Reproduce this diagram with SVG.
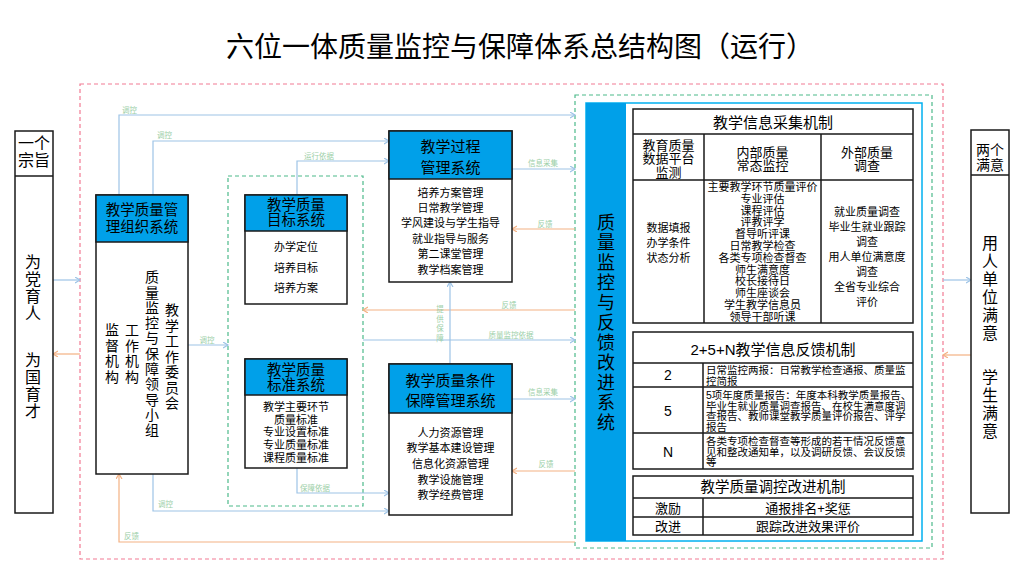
<svg xmlns="http://www.w3.org/2000/svg" width="1024" height="585" viewBox="0 0 1024 585">
<defs>
<style>
text{font-family:"Liberation Sans","Noto Sans CJK SC",sans-serif;fill:#000}
.c{text-anchor:middle}
.box{fill:#fff;stroke:#1a1a1a;stroke-width:1.5}
.hd{fill:#00a0e9;stroke:#1a1a1a;stroke-width:1.5}
.h{font-size:14.5px}
.b{font-size:11px}
.lb{font-size:7.5px;fill:#9ccfa8}
.bl{fill:none;stroke:#9dc3e6;stroke-width:1.2;marker-end:url(#ab)}
.or{fill:none;stroke:#f4b183;stroke-width:1.2;marker-end:url(#ao)}
.tb{fill:none;stroke:#1a1a1a;stroke-width:1.5}
.r{font-size:10.5px}
</style>
<marker id="ab" markerUnits="userSpaceOnUse" markerWidth="8" markerHeight="8" refX="5" refY="3" orient="auto"><path d="M0,0 L5,3 L0,6" fill="none" stroke="#9dc3e6" stroke-width="1.2"/></marker>
<marker id="ao" markerUnits="userSpaceOnUse" markerWidth="8" markerHeight="8" refX="5" refY="3" orient="auto"><path d="M0,0 L5,3 L0,6" fill="none" stroke="#f4b183" stroke-width="1.2"/></marker>
</defs>
<rect width="1024" height="585" fill="#fff"/>
<text x="226" y="57" style="font-size:28px">六位一体质量监控与保障体系总结构图（运行）</text>

<g id="frames">
<rect x="80" y="84" width="863" height="475" fill="none" stroke="#f27b93" stroke-width="1.2" stroke-dasharray="4,3"/>
<rect x="228" y="176" width="135" height="330" fill="none" stroke="#4cb98a" stroke-width="1.2" stroke-dasharray="4,3"/>
<rect x="575" y="95" width="357" height="453" fill="none" stroke="#4cb98a" stroke-width="1.2" stroke-dasharray="4,3"/>
</g>

<g id="connectors">
<path class="bl" d="M53,280 H80"/>
<path class="or" d="M80,354 H53"/>
<path class="bl" d="M943,280 H971"/>
<path class="or" d="M971,355 H943"/>
<path class="bl" d="M119,195 V115 H575"/>
<text class="lb" x="122" y="113">调控</text>
<path class="bl" d="M153,195 V141 H389"/>
<text class="lb" x="157" y="138">调控</text>
<path class="bl" d="M297,195 V161 H389"/>
<text class="lb" x="304" y="158.5">运行依据</text>
<path class="bl" d="M512,169 H575"/>
<text class="lb c" x="543" y="165.5">信息采集</text>
<path class="or" d="M575,229 H512"/>
<text class="lb c" x="545" y="226.5">反馈</text>
<path class="or" d="M575,310 H363"/>
<text class="lb c" x="509" y="307.5">反馈</text>
<path class="bl" d="M363,340 H575"/>
<text class="lb c" x="511" y="337.5">质量监控依据</text>
<path class="bl" d="M450,364 V282"/>
<text class="lb c" x="440" y="312"><tspan x="440">提</tspan><tspan x="440" dy="9.5">供</tspan><tspan x="440" dy="9.5">保</tspan><tspan x="440" dy="9.5">障</tspan></text>
<path class="bl" d="M188,345 H228"/>
<text class="lb c" x="207" y="342.5">调控</text>
<path class="bl" d="M512,399 H575"/>
<text class="lb c" x="543" y="394.5">信息采集</text>
<path class="or" d="M575,471 H512"/>
<text class="lb c" x="546" y="466.5">反馈</text>
<path class="bl" d="M297,468 V493 H389"/>
<text class="lb" x="300" y="490.5">保障依据</text>
<path class="bl" d="M153,474 V511 H389"/>
<text class="lb" x="158" y="506.5">调控</text>
<path class="or" d="M575,542 H119 V474"/>
<text class="lb" x="124" y="538.5">反馈</text>
</g>

<g id="purpose">
<rect class="box" x="15" y="131" width="38" height="382"/>
<line x1="15" y1="176" x2="53" y2="176" stroke="#1a1a1a" stroke-width="1.5"/>
<text class="c" style="font-size:16px" x="34" y="149">一个</text>
<text class="c" style="font-size:16px" x="34" y="166">宗旨</text>
<text class="c" style="font-size:16px" x="33" y="268"><tspan x="33">为</tspan><tspan x="33" dy="17">党</tspan><tspan x="33" dy="17">育</tspan><tspan x="33" dy="17">人</tspan></text>
<text class="c" style="font-size:16px" x="33" y="366"><tspan x="33">为</tspan><tspan x="33" dy="17">国</tspan><tspan x="33" dy="17">育</tspan><tspan x="33" dy="17">才</tspan></text>
</g>

<g id="satisfaction">
<rect class="box" x="971" y="130" width="38" height="383"/>
<line x1="971" y1="175" x2="1009" y2="175" stroke="#1a1a1a" stroke-width="1.5"/>
<text class="c" style="font-size:14px" x="990" y="154.5">两个</text>
<text class="c" style="font-size:14px" x="990" y="169.5">满意</text>
<text class="c" style="font-size:16px" x="990" y="249"><tspan x="990">用</tspan><tspan x="990" dy="18">人</tspan><tspan x="990" dy="18">单</tspan><tspan x="990" dy="18">位</tspan><tspan x="990" dy="18">满</tspan><tspan x="990" dy="18">意</tspan></text>
<text class="c" style="font-size:16px" x="990" y="383"><tspan x="990">学</tspan><tspan x="990" dy="18">生</tspan><tspan x="990" dy="18">满</tspan><tspan x="990" dy="18">意</tspan></text>
</g>

<g id="management">
<rect class="box" x="96" y="195" width="92" height="279"/>
<rect class="hd" x="96" y="195" width="92" height="47"/>
<text class="c h" x="142" y="215.4">教学质量管</text>
<text class="c h" x="142" y="232.4">理组织系统</text>
<text class="c" style="font-size:14px" x="112" y="335.2"><tspan x="112">监</tspan><tspan x="112" dy="15.5">督</tspan><tspan x="112" dy="15.5">机</tspan><tspan x="112" dy="15.5">构</tspan></text>
<text class="c" style="font-size:14px" x="132" y="335.2"><tspan x="132">工</tspan><tspan x="132" dy="15.5">作</tspan><tspan x="132" dy="15.5">机</tspan><tspan x="132" dy="15.5">构</tspan></text>
<text class="c" style="font-size:14px" x="152" y="282.2"><tspan x="152">质</tspan><tspan x="152" dy="15.3">量</tspan><tspan x="152" dy="15.3">监</tspan><tspan x="152" dy="15.3">控</tspan><tspan x="152" dy="15.3">与</tspan><tspan x="152" dy="15.3">保</tspan><tspan x="152" dy="15.3">障</tspan><tspan x="152" dy="15.3">领</tspan><tspan x="152" dy="15.3">导</tspan><tspan x="152" dy="15.3">小</tspan><tspan x="152" dy="15.3">组</tspan></text>
<text class="c" style="font-size:14px" x="172" y="315.2"><tspan x="172">教</tspan><tspan x="172" dy="15.5">学</tspan><tspan x="172" dy="15.5">工</tspan><tspan x="172" dy="15.5">作</tspan><tspan x="172" dy="15.5">委</tspan><tspan x="172" dy="15.5">员</tspan><tspan x="172" dy="15.5">会</tspan></text>
</g>

<g id="goal">
<rect class="box" x="245" y="195" width="102" height="109"/>
<rect class="hd" x="245" y="195" width="102" height="36"/>
<text class="c h" x="296" y="210.4">教学质量</text>
<text class="c h" x="296" y="225.4">目标系统</text>
<text class="c b" x="296" y="251">办学定位</text>
<text class="c b" x="296" y="272">培养目标</text>
<text class="c b" x="296" y="292">培养方案</text>
</g>

<g id="standard">
<rect class="box" x="245" y="359" width="102" height="109"/>
<rect class="hd" x="245" y="359" width="102" height="36"/>
<text class="c h" x="296" y="375.4">教学质量</text>
<text class="c h" x="296" y="390.4">标准系统</text>
<text class="c b" x="296" y="411">教学主要环节</text>
<text class="c b" x="296" y="423.5">质量标准</text>
<text class="c b" x="296" y="436">专业设置标准</text>
<text class="c b" x="296" y="449">专业质量标准</text>
<text class="c b" x="296" y="462">课程质量标准</text>
</g>

<g id="process">
<rect class="box" x="389" y="131" width="123" height="151"/>
<rect class="hd" x="389" y="131" width="123" height="48"/>
<text class="c" style="font-size:15px" x="450.5" y="151.5">教学过程</text>
<text class="c" style="font-size:15px" x="450.5" y="172.5">管理系统</text>
<text class="c b" x="450.5" y="197">培养方案管理</text>
<text class="c b" x="450.5" y="212">日常教学管理</text>
<text class="c b" x="450.5" y="227">学风建设与学生指导</text>
<text class="c b" x="450.5" y="243">就业指导与服务</text>
<text class="c b" x="450.5" y="258">第二课堂管理</text>
<text class="c b" x="450.5" y="274">教学档案管理</text>
</g>

<g id="condition">
<rect class="box" x="389" y="364" width="123" height="151"/>
<rect class="hd" x="389" y="364" width="123" height="49"/>
<text class="c" style="font-size:15px" x="450.5" y="385.5">教学质量条件</text>
<text class="c" style="font-size:15px" x="450.5" y="405.5">保障管理系统</text>
<text class="c b" x="450.5" y="437">人力资源管理</text>
<text class="c b" x="450.5" y="452">教学基本建设管理</text>
<text class="c b" x="450.5" y="468">信息化资源管理</text>
<text class="c b" x="450.5" y="484">教学设施管理</text>
<text class="c b" x="450.5" y="499">教学经费管理</text>
</g>

<g id="monitor">
<rect x="586" y="103" width="336" height="438" fill="#fff" stroke="#00b0f0" stroke-width="1.5"/>
<rect x="586" y="103" width="40" height="438" fill="#00a0e9"/>
<text class="c" style="font-size:18px" x="606" y="228.8"><tspan x="606">质</tspan><tspan x="606" dy="20">量</tspan><tspan x="606" dy="20">监</tspan><tspan x="606" dy="20">控</tspan><tspan x="606" dy="20">与</tspan><tspan x="606" dy="20">反</tspan><tspan x="606" dy="20">馈</tspan><tspan x="606" dy="20">改</tspan><tspan x="606" dy="20">进</tspan><tspan x="606" dy="20">系</tspan><tspan x="606" dy="20">统</tspan></text>
</g>

<g id="collect">
<rect class="tb" x="633" y="109" width="280" height="214"/>
<path class="tb" d="M633,134 H913 M633,180 H913 M704,134 V323 M821,134 V323"/>
<text class="c" style="font-size:15px" x="773" y="127.5">教学信息采集机制</text>
<text class="c" style="font-size:13px" x="668.5" y="149.8">教育质量</text>
<text class="c" style="font-size:13px" x="668.5" y="162.8">数据平台</text>
<text class="c" style="font-size:13px" x="668.5" y="176.8">监测</text>
<text class="c" style="font-size:13px" x="762.5" y="156.8">内部质量</text>
<text class="c" style="font-size:13px" x="762.5" y="169.8">常态监控</text>
<text class="c" style="font-size:13px" x="867" y="156.8">外部质量</text>
<text class="c" style="font-size:13px" x="867" y="169.8">调查</text>
<text class="c b" x="668.5" y="232">数据填报</text>
<text class="c b" x="668.5" y="247">办学条件</text>
<text class="c b" x="668.5" y="262">状态分析</text>
<text class="c b" x="762.5" y="191"><tspan x="762.5">主要教学环节质量评价</tspan><tspan x="762.5" dy="11.8">专业评估</tspan><tspan x="762.5" dy="11.8">课程评估</tspan><tspan x="762.5" dy="11.8">评教评学</tspan><tspan x="762.5" dy="11.8">督导听评课</tspan><tspan x="762.5" dy="11.8">日常教学检查</tspan><tspan x="762.5" dy="11.8">各类专项检查督查</tspan><tspan x="762.5" dy="11.8">师生满意度</tspan><tspan x="762.5" dy="11.8">校长接待日</tspan><tspan x="762.5" dy="11.8">师生座谈会</tspan><tspan x="762.5" dy="11.8">学生教学信息员</tspan><tspan x="762.5" dy="11.8">领导干部听课</tspan></text>
<text class="c b" x="867" y="216"><tspan x="867">就业质量调查</tspan><tspan x="867" dy="15">毕业生就业跟踪</tspan><tspan x="867" dy="15">调查</tspan><tspan x="867" dy="15">用人单位满意度</tspan><tspan x="867" dy="15">调查</tspan><tspan x="867" dy="15">全省专业综合</tspan><tspan x="867" dy="15">评价</tspan></text>
</g>

<g id="feedback">
<rect class="tb" x="633" y="332" width="280" height="137"/>
<path class="tb" d="M633,363 H913 M633,387 H913 M633,433 H913 M703,363 V469"/>
<text class="c" style="font-size:15px" x="773" y="354.5">2+5+N教学信息反馈机制</text>
<text class="c" style="font-size:14px" x="668" y="380">2</text>
<text class="c" style="font-size:14px" x="668" y="416">5</text>
<text class="c" style="font-size:14px" x="668" y="457">N</text>
<text class="r" x="706" y="374">日常监控两报：日常教学检查通报、质量监</text>
<text class="r" x="706" y="384.5">控简报</text>
<text class="r" x="706" y="399">5项年度质量报告：年度本科教学质量报告、</text>
<text class="r" x="706" y="409.5">毕业生就业质量调查报告、在校生满意度调</text>
<text class="r" x="706" y="420">查报告、教师课堂教学质量评价报告、评学</text>
<text class="r" x="706" y="430.5">报告</text>
<text class="r" x="706" y="445">各类专项检查督查等形成的若干情况反馈意</text>
<text class="r" x="706" y="455.5">见和整改通知单，以及调研反馈、会议反馈</text>
<text class="r" x="706" y="466">等</text>
</g>

<g id="improve">
<rect class="tb" x="633" y="476" width="280" height="59"/>
<path class="tb" d="M633,498 H913 M633,517 H913 M703,498 V535"/>
<text class="c" style="font-size:14.5px" x="773" y="492.4">教学质量调控改进机制</text>
<text class="c" style="font-size:13px" x="668" y="512.8">激励</text>
<text class="c" style="font-size:13px" x="808" y="512.8">通报排名+奖惩</text>
<text class="c" style="font-size:13px" x="668" y="530.8">改进</text>
<text class="c" style="font-size:13px" x="808" y="530.8">跟踪改进效果评价</text>
</g>
</svg>
